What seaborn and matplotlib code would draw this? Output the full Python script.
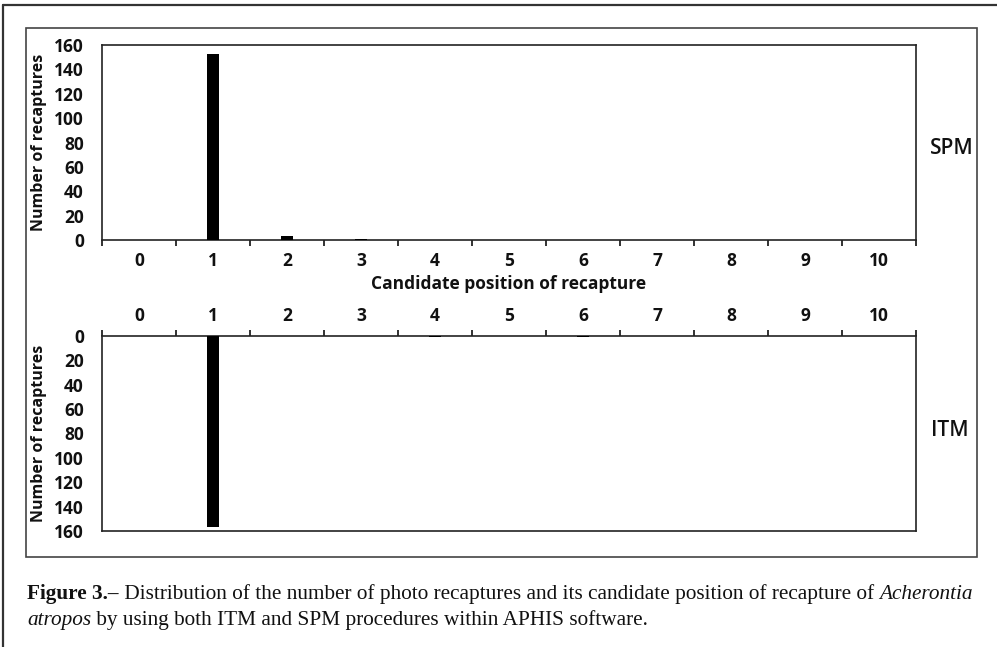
import matplotlib
matplotlib.use("Agg")
import matplotlib.pyplot as plt
from matplotlib.patches import Rectangle
from matplotlib.lines import Line2D
from matplotlib.ticker import FixedLocator
import seaborn as sns
import pandas as pd

# data
positions = ["0", "1", "2", "3", "4", "5", "6", "7", "8", "9", "10"]
spm_counts = [0, 153, 3, 1, 0, 0, 0, 0, 0, 0, 0]
itm_counts = [0, 157, 0, 0, 1, 0, 1, 0, 0, 0, 0]
y_ticks = [0, 20, 40, 60, 80, 100, 120, 140, 160]

sns.set_theme(style="white")
plt.rcParams["font.family"] = ["Open Sans", "DejaVu Sans"]

W, H = 997, 647
fig = plt.figure(figsize=(W / 100, H / 100), dpi=100)
fig.patch.set_facecolor("white")


def fx(px):
    return px / W


def fy(py):
    return 1 - py / H


# frames around the figure
fig.add_artist(Line2D([fx(3), fx(3)], [fy(5), -0.1], transform=fig.transFigure,
                      color="#333333", lw=1.6))
fig.add_artist(Line2D([fx(3), 1.1], [fy(5), fy(5)], transform=fig.transFigure,
                      color="#333333", lw=1.6))
fig.add_artist(Rectangle((fx(26), fy(557)), fx(977) - fx(26), fy(28) - fy(557),
                         transform=fig.transFigure, fill=False,
                         edgecolor="#444444", lw=1.2))

ax_top = fig.add_axes([fx(102), fy(240), fx(916) - fx(102), fy(45) - fy(240)])
ax_bot = fig.add_axes([fx(102), fy(531), fx(916) - fx(102), fy(336) - fy(531)])

df = pd.DataFrame({"position": positions, "SPM": spm_counts, "ITM": itm_counts})

bar_kw = dict(order=positions, color="black", width=0.17, saturation=1,
              edgecolor="black", linewidth=0, zorder=3)
sns.barplot(data=df, x="position", y="SPM", ax=ax_top, **bar_kw)
sns.barplot(data=df, x="position", y="ITM", ax=ax_bot, **bar_kw)

tick_font = dict(fontsize=12.5, fontweight="bold", color="#111111")
for ax in (ax_top, ax_bot):
    ax.set_xlim(-0.5, 10.5)
    ax.set_yticks(y_ticks)
    ax.set_yticklabels([str(t) for t in y_ticks], **tick_font)
    ax.set_xticks(range(len(positions)))
    ax.set_xticklabels(positions, **tick_font)
    ax.xaxis.set_minor_locator(FixedLocator([i - 0.5 for i in range(len(positions) + 1)]))
    ax.tick_params(axis="y", length=0, pad=13)
    ax.tick_params(axis="x", which="major", length=0, pad=9)
    ax.tick_params(axis="x", which="minor", length=4, width=1.3, color="#222222")
    for s in ax.spines.values():
        s.set_visible(True)
        s.set_color("#222222")
        s.set_linewidth(1.2)
    ax.set_ylabel("Number of recaptures", fontsize=11.5, fontweight="bold",
                  color="#111111", labelpad=5)
    ax.grid(False)

ax_top.set_ylim(0, 160)
ax_top.tick_params(axis="x", which="both", direction="out", bottom=True, top=False)
ax_top.set_xlabel("Candidate position of recapture", fontsize=12.5,
                  fontweight="bold", color="#111111", labelpad=3)

ax_bot.set_ylim(160, 0)
ax_bot.xaxis.tick_top()
ax_bot.tick_params(axis="x", which="both", direction="out", top=True, bottom=False,
                   labeltop=True, labelbottom=False)
ax_bot.tick_params(axis="x", which="major", pad=8)
ax_bot.set_xlabel("")

fig.text(fx(952), fy(148), "SPM", fontsize=15, fontweight="semibold",
         ha="center", va="center", color="#111111")
fig.text(fx(950), fy(430), "ITM", fontsize=15, fontweight="semibold",
         ha="center", va="center", color="#111111")

# caption with mixed bold / italic pieces
serif = ["Liberation Serif", "DejaVu Serif"]
cap_size = 15.35
lines = [
    [("Figure 3.\u2013", "bold", "normal"),
     (" Distribution of the number of photo recaptures and its candidate position of recapture of ", "normal", "normal"),
     ("Acherontia", "normal", "italic")],
    [("atropos", "normal", "italic"),
     (" by using both ITM and SPM procedures within APHIS software.", "normal", "normal")],
]
baselines = [599, 625]
fig.canvas.draw()
renderer = fig.canvas.get_renderer()
for pieces, base in zip(lines, baselines):
    x = fx(27)
    for txt, weight, style in pieces:
        t = fig.text(x, fy(base), txt, family=serif, fontsize=cap_size,
                     fontweight=weight, fontstyle=style, color="#111111",
                     ha="left", va="baseline")
        bb = t.get_window_extent(renderer=renderer)
        x += bb.width / W

fig.savefig("out.png", dpi=100, facecolor="white")
